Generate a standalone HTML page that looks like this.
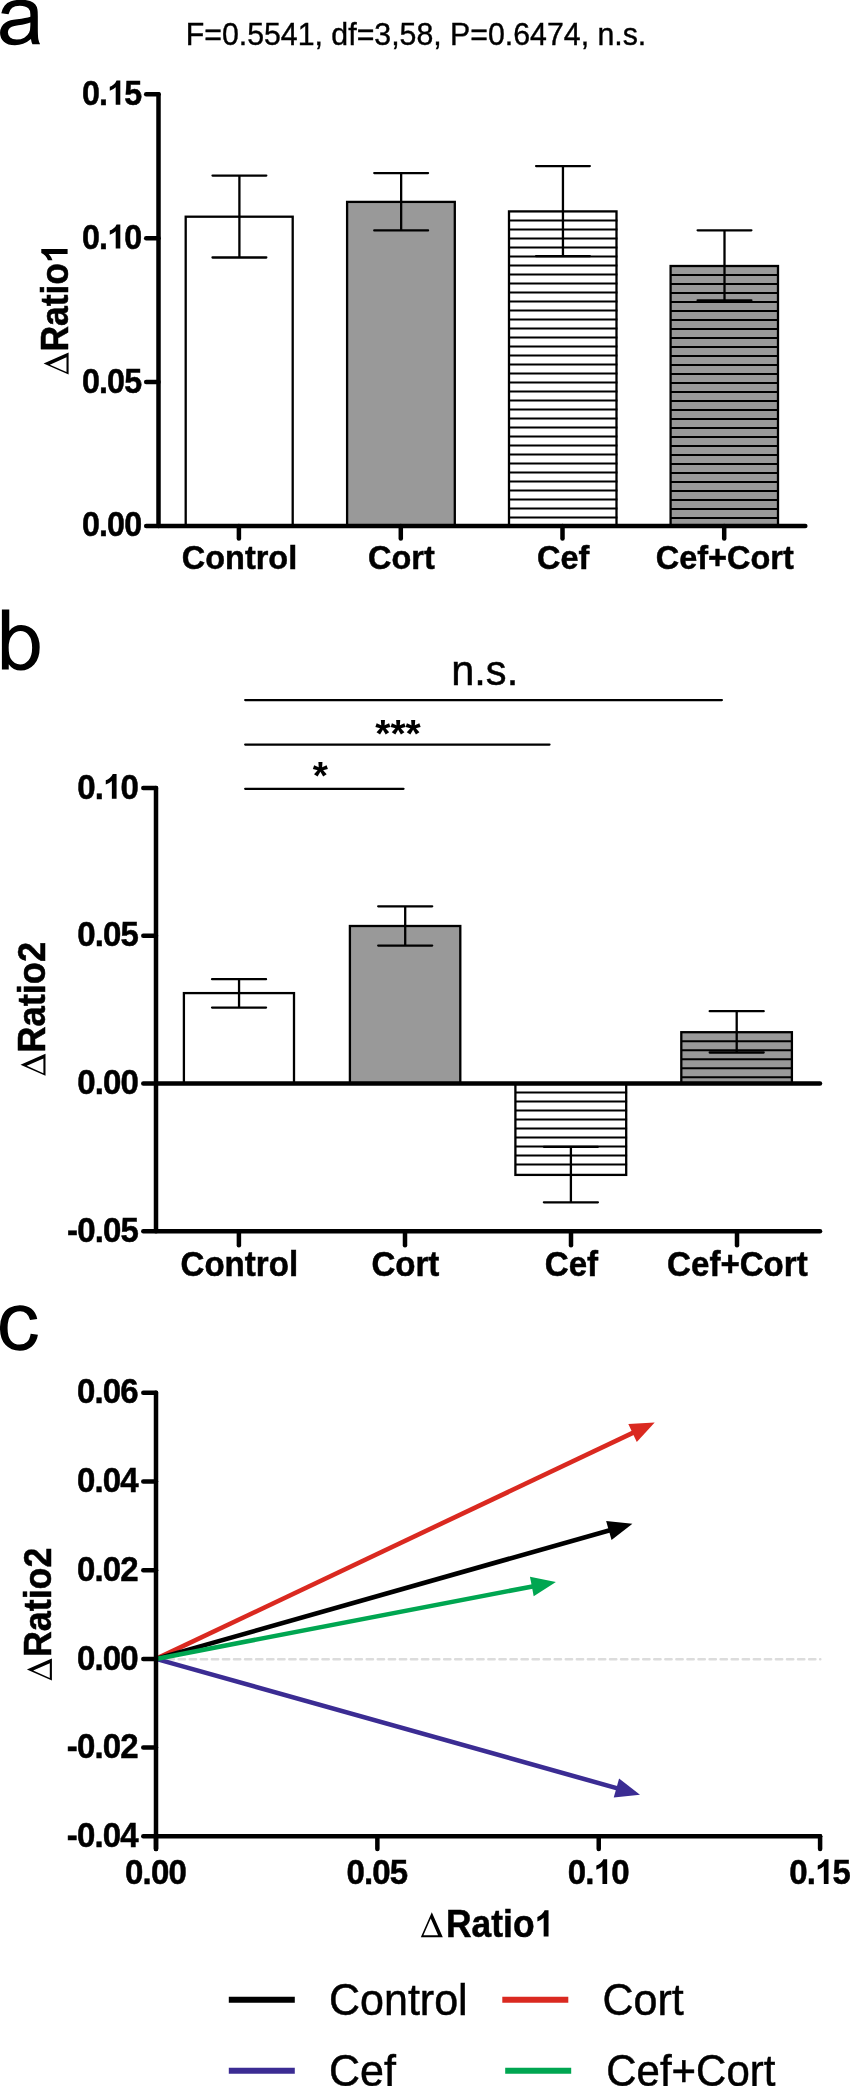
<!DOCTYPE html>
<html><head><meta charset="utf-8"><title>figure</title>
<style>html,body{margin:0;padding:0;background:#fff;}svg{display:block;will-change:transform;}</style>
</head><body>
<svg width="850" height="2086" viewBox="0 0 850 2086">
<rect width="850" height="2086" fill="#fff"/>
<path d="M828,131 Q728,46 635.5,11 Q543,-24 437,-24 Q262,-24 168,61.5 Q74,147 74,280 Q74,358 109.5,422.5 Q145,487 202.5,526 Q260,565 332,585 Q385,599 492,612 Q710,638 813,674 Q814,711 814,721 Q814,831 763,876 Q694,937 558,937 Q431,937 370.5,892.5 Q310,848 281,735 L105,759 Q129,872 184,941.5 Q239,1011 343,1048.5 Q447,1086 584,1086 Q720,1086 805,1054 Q890,1022 930,973.5 Q970,925 986,851 Q995,805 995,685 L995,445 Q995,194 1006.5,127.5 Q1018,61 1052,0 L864,0 Q836,56 828,131 Z M813,533 Q715,493 519,465 Q408,449 362,429 Q316,409 291,370.5 Q266,332 266,285 Q266,213 320.5,165 Q375,117 480,117 Q584,117 665,162.5 Q746,208 784,287 Q813,348 813,467 Z" fill-rule="nonzero" transform="translate(-3.0,44.3) scale(0.04102,-0.04102)"/>
<path d="M301,0 L134,0 L134,1466 L314,1466 L314,943 Q428,1086 605,1086 Q703,1086 790.5,1046.5 Q878,1007 934.5,935.5 Q991,864 1023,763 Q1055,662 1055,547 Q1055,274 920,125 Q785,-24 596,-24 Q408,-24 301,133 Z M299,539 Q299,348 351,263 Q436,124 581,124 Q699,124 785,226.5 Q871,329 871,532 Q871,740 788.5,839 Q706,938 589,938 Q471,938 385,835.5 Q299,733 299,539 Z" fill-rule="evenodd" transform="translate(-3.6,669.6) scale(0.04102,-0.04102)"/>
<path d="M828,389 L1005,366 Q976,183 856.5,79.5 Q737,-24 563,-24 Q345,-24 212.5,118.5 Q80,261 80,527 Q80,699 137,828 Q194,957 310.5,1021.5 Q427,1086 564,1086 Q737,1086 847,998.5 Q957,911 988,750 L813,723 Q788,830 724.5,884 Q661,938 571,938 Q435,938 350,840.5 Q265,743 265,532 Q265,318 347,221 Q429,124 561,124 Q667,124 738,189 Q809,254 828,389 Z" transform="translate(-3.3,1349.7) scale(0.04102,-0.04102)"/>
<text x="0" y="0" font-size="31.4" font-family="Liberation Sans, sans-serif" text-anchor="start" stroke="#000" stroke-width="0.4" transform="translate(185.7,45.3) scale(0.965,1)" >F=0.5541, df=3,58, P=0.6474, n.s.</text>
<rect x="185.7" y="216.7" width="107.0" height="309.3" fill="#fff" stroke="#000" stroke-width="2.3"/>
<rect x="347.1" y="201.9" width="107.69999999999999" height="324.1" fill="#999999" stroke="#000" stroke-width="2.3"/>
<rect x="509.0" y="211.4" width="107.5" height="314.6" fill="#fff" stroke="#000" stroke-width="2.3"/>
<line x1="509.0" y1="220.4" x2="617.4" y2="220.4" stroke="#000" stroke-width="2.0" stroke-linecap="butt" />
<line x1="509.0" y1="229.4" x2="617.4" y2="229.4" stroke="#000" stroke-width="2.0" stroke-linecap="butt" />
<line x1="509.0" y1="238.4" x2="617.4" y2="238.4" stroke="#000" stroke-width="2.0" stroke-linecap="butt" />
<line x1="509.0" y1="247.4" x2="617.4" y2="247.4" stroke="#000" stroke-width="2.0" stroke-linecap="butt" />
<line x1="509.0" y1="256.4" x2="617.4" y2="256.4" stroke="#000" stroke-width="2.0" stroke-linecap="butt" />
<line x1="509.0" y1="265.4" x2="617.4" y2="265.4" stroke="#000" stroke-width="2.0" stroke-linecap="butt" />
<line x1="509.0" y1="274.4" x2="617.4" y2="274.4" stroke="#000" stroke-width="2.0" stroke-linecap="butt" />
<line x1="509.0" y1="283.4" x2="617.4" y2="283.4" stroke="#000" stroke-width="2.0" stroke-linecap="butt" />
<line x1="509.0" y1="292.4" x2="617.4" y2="292.4" stroke="#000" stroke-width="2.0" stroke-linecap="butt" />
<line x1="509.0" y1="301.4" x2="617.4" y2="301.4" stroke="#000" stroke-width="2.0" stroke-linecap="butt" />
<line x1="509.0" y1="310.4" x2="617.4" y2="310.4" stroke="#000" stroke-width="2.0" stroke-linecap="butt" />
<line x1="509.0" y1="319.4" x2="617.4" y2="319.4" stroke="#000" stroke-width="2.0" stroke-linecap="butt" />
<line x1="509.0" y1="328.4" x2="617.4" y2="328.4" stroke="#000" stroke-width="2.0" stroke-linecap="butt" />
<line x1="509.0" y1="337.4" x2="617.4" y2="337.4" stroke="#000" stroke-width="2.0" stroke-linecap="butt" />
<line x1="509.0" y1="346.4" x2="617.4" y2="346.4" stroke="#000" stroke-width="2.0" stroke-linecap="butt" />
<line x1="509.0" y1="355.4" x2="617.4" y2="355.4" stroke="#000" stroke-width="2.0" stroke-linecap="butt" />
<line x1="509.0" y1="364.4" x2="617.4" y2="364.4" stroke="#000" stroke-width="2.0" stroke-linecap="butt" />
<line x1="509.0" y1="373.4" x2="617.4" y2="373.4" stroke="#000" stroke-width="2.0" stroke-linecap="butt" />
<line x1="509.0" y1="382.4" x2="617.4" y2="382.4" stroke="#000" stroke-width="2.0" stroke-linecap="butt" />
<line x1="509.0" y1="391.4" x2="617.4" y2="391.4" stroke="#000" stroke-width="2.0" stroke-linecap="butt" />
<line x1="509.0" y1="400.4" x2="617.4" y2="400.4" stroke="#000" stroke-width="2.0" stroke-linecap="butt" />
<line x1="509.0" y1="409.4" x2="617.4" y2="409.4" stroke="#000" stroke-width="2.0" stroke-linecap="butt" />
<line x1="509.0" y1="418.4" x2="617.4" y2="418.4" stroke="#000" stroke-width="2.0" stroke-linecap="butt" />
<line x1="509.0" y1="427.4" x2="617.4" y2="427.4" stroke="#000" stroke-width="2.0" stroke-linecap="butt" />
<line x1="509.0" y1="436.4" x2="617.4" y2="436.4" stroke="#000" stroke-width="2.0" stroke-linecap="butt" />
<line x1="509.0" y1="445.4" x2="617.4" y2="445.4" stroke="#000" stroke-width="2.0" stroke-linecap="butt" />
<line x1="509.0" y1="454.4" x2="617.4" y2="454.4" stroke="#000" stroke-width="2.0" stroke-linecap="butt" />
<line x1="509.0" y1="463.4" x2="617.4" y2="463.4" stroke="#000" stroke-width="2.0" stroke-linecap="butt" />
<line x1="509.0" y1="472.4" x2="617.4" y2="472.4" stroke="#000" stroke-width="2.0" stroke-linecap="butt" />
<line x1="509.0" y1="481.4" x2="617.4" y2="481.4" stroke="#000" stroke-width="2.0" stroke-linecap="butt" />
<line x1="509.0" y1="490.4" x2="617.4" y2="490.4" stroke="#000" stroke-width="2.0" stroke-linecap="butt" />
<line x1="509.0" y1="499.4" x2="617.4" y2="499.4" stroke="#000" stroke-width="2.0" stroke-linecap="butt" />
<line x1="509.0" y1="508.4" x2="617.4" y2="508.4" stroke="#000" stroke-width="2.0" stroke-linecap="butt" />
<line x1="509.0" y1="517.4" x2="617.4" y2="517.4" stroke="#000" stroke-width="2.0" stroke-linecap="butt" />
<rect x="670.6" y="266.0" width="107.39999999999998" height="260.0" fill="#999999" stroke="#000" stroke-width="2.3"/>
<line x1="670.6" y1="275.0" x2="778.9" y2="275.0" stroke="#000" stroke-width="2.0" stroke-linecap="butt" />
<line x1="670.6" y1="284.0" x2="778.9" y2="284.0" stroke="#000" stroke-width="2.0" stroke-linecap="butt" />
<line x1="670.6" y1="293.0" x2="778.9" y2="293.0" stroke="#000" stroke-width="2.0" stroke-linecap="butt" />
<line x1="670.6" y1="302.0" x2="778.9" y2="302.0" stroke="#000" stroke-width="2.0" stroke-linecap="butt" />
<line x1="670.6" y1="311.0" x2="778.9" y2="311.0" stroke="#000" stroke-width="2.0" stroke-linecap="butt" />
<line x1="670.6" y1="320.0" x2="778.9" y2="320.0" stroke="#000" stroke-width="2.0" stroke-linecap="butt" />
<line x1="670.6" y1="329.0" x2="778.9" y2="329.0" stroke="#000" stroke-width="2.0" stroke-linecap="butt" />
<line x1="670.6" y1="338.0" x2="778.9" y2="338.0" stroke="#000" stroke-width="2.0" stroke-linecap="butt" />
<line x1="670.6" y1="347.0" x2="778.9" y2="347.0" stroke="#000" stroke-width="2.0" stroke-linecap="butt" />
<line x1="670.6" y1="356.0" x2="778.9" y2="356.0" stroke="#000" stroke-width="2.0" stroke-linecap="butt" />
<line x1="670.6" y1="365.0" x2="778.9" y2="365.0" stroke="#000" stroke-width="2.0" stroke-linecap="butt" />
<line x1="670.6" y1="374.0" x2="778.9" y2="374.0" stroke="#000" stroke-width="2.0" stroke-linecap="butt" />
<line x1="670.6" y1="383.0" x2="778.9" y2="383.0" stroke="#000" stroke-width="2.0" stroke-linecap="butt" />
<line x1="670.6" y1="392.0" x2="778.9" y2="392.0" stroke="#000" stroke-width="2.0" stroke-linecap="butt" />
<line x1="670.6" y1="401.0" x2="778.9" y2="401.0" stroke="#000" stroke-width="2.0" stroke-linecap="butt" />
<line x1="670.6" y1="410.0" x2="778.9" y2="410.0" stroke="#000" stroke-width="2.0" stroke-linecap="butt" />
<line x1="670.6" y1="419.0" x2="778.9" y2="419.0" stroke="#000" stroke-width="2.0" stroke-linecap="butt" />
<line x1="670.6" y1="428.0" x2="778.9" y2="428.0" stroke="#000" stroke-width="2.0" stroke-linecap="butt" />
<line x1="670.6" y1="437.0" x2="778.9" y2="437.0" stroke="#000" stroke-width="2.0" stroke-linecap="butt" />
<line x1="670.6" y1="446.0" x2="778.9" y2="446.0" stroke="#000" stroke-width="2.0" stroke-linecap="butt" />
<line x1="670.6" y1="455.0" x2="778.9" y2="455.0" stroke="#000" stroke-width="2.0" stroke-linecap="butt" />
<line x1="670.6" y1="464.0" x2="778.9" y2="464.0" stroke="#000" stroke-width="2.0" stroke-linecap="butt" />
<line x1="670.6" y1="473.0" x2="778.9" y2="473.0" stroke="#000" stroke-width="2.0" stroke-linecap="butt" />
<line x1="670.6" y1="482.0" x2="778.9" y2="482.0" stroke="#000" stroke-width="2.0" stroke-linecap="butt" />
<line x1="670.6" y1="491.0" x2="778.9" y2="491.0" stroke="#000" stroke-width="2.0" stroke-linecap="butt" />
<line x1="670.6" y1="500.0" x2="778.9" y2="500.0" stroke="#000" stroke-width="2.0" stroke-linecap="butt" />
<line x1="670.6" y1="509.0" x2="778.9" y2="509.0" stroke="#000" stroke-width="2.0" stroke-linecap="butt" />
<line x1="670.6" y1="518.0" x2="778.9" y2="518.0" stroke="#000" stroke-width="2.0" stroke-linecap="butt" />
<line x1="239.39999999999998" y1="175.6" x2="239.39999999999998" y2="257.5" stroke="#000" stroke-width="2.3" stroke-linecap="butt" />
<line x1="212.49999999999997" y1="175.6" x2="266.29999999999995" y2="175.6" stroke="#000" stroke-width="2.3" stroke-linecap="round" />
<line x1="212.49999999999997" y1="257.5" x2="266.29999999999995" y2="257.5" stroke="#000" stroke-width="2.3" stroke-linecap="round" />
<line x1="401.15000000000003" y1="173.1" x2="401.15000000000003" y2="230.4" stroke="#000" stroke-width="2.3" stroke-linecap="butt" />
<line x1="374.25000000000006" y1="173.1" x2="428.05" y2="173.1" stroke="#000" stroke-width="2.3" stroke-linecap="round" />
<line x1="374.25000000000006" y1="230.4" x2="428.05" y2="230.4" stroke="#000" stroke-width="2.3" stroke-linecap="round" />
<line x1="562.95" y1="166.1" x2="562.95" y2="256.2" stroke="#000" stroke-width="2.3" stroke-linecap="butt" />
<line x1="536.0500000000001" y1="166.1" x2="589.85" y2="166.1" stroke="#000" stroke-width="2.3" stroke-linecap="round" />
<line x1="536.0500000000001" y1="256.2" x2="589.85" y2="256.2" stroke="#000" stroke-width="2.3" stroke-linecap="round" />
<line x1="724.5" y1="230.3" x2="724.5" y2="300.3" stroke="#000" stroke-width="2.3" stroke-linecap="butt" />
<line x1="697.6" y1="230.3" x2="751.4" y2="230.3" stroke="#000" stroke-width="2.3" stroke-linecap="round" />
<line x1="697.6" y1="300.3" x2="751.4" y2="300.3" stroke="#000" stroke-width="2.3" stroke-linecap="round" />
<line x1="158.5" y1="94.3" x2="158.5" y2="525.4" stroke="#000" stroke-width="4.5" stroke-linecap="round" />
<line x1="158.5" y1="526.0" x2="805.3" y2="526.0" stroke="#000" stroke-width="4.5" stroke-linecap="round" />
<line x1="146.2" y1="94.3" x2="158.5" y2="94.3" stroke="#000" stroke-width="4.5" stroke-linecap="round" />
<text x="0" y="0" font-size="34.85" font-family="Liberation Sans, sans-serif" font-weight="bold" text-anchor="start" letter-spacing="-0.9" stroke="#000" stroke-width="0.5" transform="translate(81.9,104.69999999999999) scale(0.925,1)" >0.</text>
<path d="M806,0 L525,0 L525,-1059 Q371,-915 162,-846 L162,-1101 Q272,-1137 401,-1237.5 Q530,-1338 578,-1472 L806,-1472 Z" transform="translate(107.12,104.70) scale(0.01636,0.01636)"/>
<text x="0" y="0" font-size="34.85" font-family="Liberation Sans, sans-serif" font-weight="bold" text-anchor="start" letter-spacing="-0.9" stroke="#000" stroke-width="0.5" transform="translate(124.21,104.69999999999999) scale(0.925,1)" >5</text>
<line x1="146.2" y1="238.2" x2="158.5" y2="238.2" stroke="#000" stroke-width="4.5" stroke-linecap="round" />
<text x="0" y="0" font-size="34.85" font-family="Liberation Sans, sans-serif" font-weight="bold" text-anchor="start" letter-spacing="-0.9" stroke="#000" stroke-width="0.5" transform="translate(81.9,248.6) scale(0.925,1)" >0.</text>
<path d="M806,0 L525,0 L525,-1059 Q371,-915 162,-846 L162,-1101 Q272,-1137 401,-1237.5 Q530,-1338 578,-1472 L806,-1472 Z" transform="translate(107.12,248.60) scale(0.01636,0.01636)"/>
<text x="0" y="0" font-size="34.85" font-family="Liberation Sans, sans-serif" font-weight="bold" text-anchor="start" letter-spacing="-0.9" stroke="#000" stroke-width="0.5" transform="translate(124.21,248.6) scale(0.925,1)" >0</text>
<line x1="146.2" y1="382.1" x2="158.5" y2="382.1" stroke="#000" stroke-width="4.5" stroke-linecap="round" />
<text x="0" y="0" font-size="34.85" font-family="Liberation Sans, sans-serif" font-weight="bold" text-anchor="start" letter-spacing="-0.9" stroke="#000" stroke-width="0.5" transform="translate(81.9,392.50000000000006) scale(0.925,1)" >0.05</text>
<line x1="146.2" y1="526.0" x2="158.5" y2="526.0" stroke="#000" stroke-width="4.5" stroke-linecap="round" />
<text x="0" y="0" font-size="34.85" font-family="Liberation Sans, sans-serif" font-weight="bold" text-anchor="start" letter-spacing="-0.9" stroke="#000" stroke-width="0.5" transform="translate(81.9,536.4) scale(0.925,1)" >0.00</text>
<line x1="238.9" y1="526.0" x2="238.9" y2="538.4" stroke="#000" stroke-width="4.5" stroke-linecap="round" />
<text x="0" y="0" font-size="33.8" font-family="Liberation Sans, sans-serif" font-weight="bold" text-anchor="middle" stroke="#000" stroke-width="0.5" transform="translate(239.5,568.8) scale(0.96,1)" >Control</text>
<line x1="400.8" y1="526.0" x2="400.8" y2="538.4" stroke="#000" stroke-width="4.5" stroke-linecap="round" />
<text x="0" y="0" font-size="33.8" font-family="Liberation Sans, sans-serif" font-weight="bold" text-anchor="middle" stroke="#000" stroke-width="0.5" transform="translate(401.40000000000003,568.8) scale(0.96,1)" >Cort</text>
<line x1="562.5" y1="526.0" x2="562.5" y2="538.4" stroke="#000" stroke-width="4.5" stroke-linecap="round" />
<text x="0" y="0" font-size="33.8" font-family="Liberation Sans, sans-serif" font-weight="bold" text-anchor="middle" stroke="#000" stroke-width="0.5" transform="translate(563.1,568.8) scale(0.96,1)" >Cef</text>
<line x1="724.2" y1="526.0" x2="724.2" y2="538.4" stroke="#000" stroke-width="4.5" stroke-linecap="round" />
<text x="0" y="0" font-size="33.8" font-family="Liberation Sans, sans-serif" font-weight="bold" text-anchor="middle" stroke="#000" stroke-width="0.5" transform="translate(724.8000000000001,568.8) scale(0.96,1)" >Cef+Cort</text>
<path d="M0,0 L22.0,0 L11.0,-25.0 Z M2.62,-2.1 L9.95,-18.75 L17.28,-2.1 Z" fill="#000" fill-rule="evenodd" transform="translate(68.6,374.6) rotate(-90)"/>
<text x="0" y="0" font-size="38.1" font-family="Liberation Sans, sans-serif" font-weight="bold" text-anchor="start" stroke="#000" stroke-width="0.5" transform="translate(67.6,351.6) rotate(-90) scale(0.93,1)" >Ratio</text>
<path d="M806,0 L525,0 L525,-1059 Q371,-915 162,-846 L162,-1101 Q272,-1137 401,-1237.5 Q530,-1338 578,-1472 L806,-1472 Z" transform="translate(67.60,263.02) rotate(-90) scale(0.01730,0.01787)"/>
<rect x="183.9" y="993.1" width="110.1" height="90.39999999999998" fill="#fff" stroke="#000" stroke-width="2.3"/>
<rect x="349.9" y="926.0" width="110.40000000000003" height="157.5" fill="#999999" stroke="#000" stroke-width="2.3"/>
<rect x="515.4" y="1083.5" width="110.80000000000007" height="91.40000000000009" fill="#fff" stroke="#000" stroke-width="2.3"/>
<line x1="515.4" y1="1092.5" x2="627.1" y2="1092.5" stroke="#000" stroke-width="2.0" stroke-linecap="butt" />
<line x1="515.4" y1="1101.5" x2="627.1" y2="1101.5" stroke="#000" stroke-width="2.0" stroke-linecap="butt" />
<line x1="515.4" y1="1110.5" x2="627.1" y2="1110.5" stroke="#000" stroke-width="2.0" stroke-linecap="butt" />
<line x1="515.4" y1="1119.5" x2="627.1" y2="1119.5" stroke="#000" stroke-width="2.0" stroke-linecap="butt" />
<line x1="515.4" y1="1128.5" x2="627.1" y2="1128.5" stroke="#000" stroke-width="2.0" stroke-linecap="butt" />
<line x1="515.4" y1="1137.5" x2="627.1" y2="1137.5" stroke="#000" stroke-width="2.0" stroke-linecap="butt" />
<line x1="515.4" y1="1146.5" x2="627.1" y2="1146.5" stroke="#000" stroke-width="2.0" stroke-linecap="butt" />
<line x1="515.4" y1="1155.5" x2="627.1" y2="1155.5" stroke="#000" stroke-width="2.0" stroke-linecap="butt" />
<line x1="515.4" y1="1164.5" x2="627.1" y2="1164.5" stroke="#000" stroke-width="2.0" stroke-linecap="butt" />
<rect x="681.3" y="1032.2" width="110.60000000000002" height="51.299999999999955" fill="#999999" stroke="#000" stroke-width="2.3"/>
<line x1="681.3" y1="1041.2" x2="792.8" y2="1041.2" stroke="#000" stroke-width="2.0" stroke-linecap="butt" />
<line x1="681.3" y1="1050.2" x2="792.8" y2="1050.2" stroke="#000" stroke-width="2.0" stroke-linecap="butt" />
<line x1="681.3" y1="1059.2" x2="792.8" y2="1059.2" stroke="#000" stroke-width="2.0" stroke-linecap="butt" />
<line x1="681.3" y1="1068.2" x2="792.8" y2="1068.2" stroke="#000" stroke-width="2.0" stroke-linecap="butt" />
<line x1="681.3" y1="1077.2" x2="792.8" y2="1077.2" stroke="#000" stroke-width="2.0" stroke-linecap="butt" />
<line x1="239.04999999999998" y1="979.2" x2="239.04999999999998" y2="1007.6" stroke="#000" stroke-width="2.3" stroke-linecap="butt" />
<line x1="212.04999999999998" y1="979.2" x2="266.04999999999995" y2="979.2" stroke="#000" stroke-width="2.3" stroke-linecap="round" />
<line x1="212.04999999999998" y1="1007.6" x2="266.04999999999995" y2="1007.6" stroke="#000" stroke-width="2.3" stroke-linecap="round" />
<line x1="405.20000000000005" y1="906.3" x2="405.20000000000005" y2="945.6" stroke="#000" stroke-width="2.3" stroke-linecap="butt" />
<line x1="378.20000000000005" y1="906.3" x2="432.20000000000005" y2="906.3" stroke="#000" stroke-width="2.3" stroke-linecap="round" />
<line x1="378.20000000000005" y1="945.6" x2="432.20000000000005" y2="945.6" stroke="#000" stroke-width="2.3" stroke-linecap="round" />
<line x1="570.9" y1="1146.8" x2="570.9" y2="1202.3" stroke="#000" stroke-width="2.3" stroke-linecap="butt" />
<line x1="543.9" y1="1146.8" x2="597.9" y2="1146.8" stroke="#000" stroke-width="2.3" stroke-linecap="round" />
<line x1="543.9" y1="1202.3" x2="597.9" y2="1202.3" stroke="#000" stroke-width="2.3" stroke-linecap="round" />
<line x1="736.6999999999999" y1="1011.2" x2="736.6999999999999" y2="1052.5" stroke="#000" stroke-width="2.3" stroke-linecap="butt" />
<line x1="709.6999999999999" y1="1011.2" x2="763.6999999999999" y2="1011.2" stroke="#000" stroke-width="2.3" stroke-linecap="round" />
<line x1="709.6999999999999" y1="1052.5" x2="763.6999999999999" y2="1052.5" stroke="#000" stroke-width="2.3" stroke-linecap="round" />
<line x1="156.0" y1="788.1" x2="156.0" y2="1230.6000000000001" stroke="#000" stroke-width="4.5" stroke-linecap="round" />
<line x1="156.0" y1="1231.2" x2="820.0" y2="1231.2" stroke="#000" stroke-width="4.5" stroke-linecap="round" />
<line x1="156.0" y1="1083.5" x2="820.0" y2="1083.5" stroke="#000" stroke-width="4.5" stroke-linecap="round" />
<line x1="143.3" y1="788.1" x2="156.0" y2="788.1" stroke="#000" stroke-width="4.5" stroke-linecap="round" />
<text x="0" y="0" font-size="35.72125" font-family="Liberation Sans, sans-serif" font-weight="bold" text-anchor="start" letter-spacing="-0.9225" stroke="#000" stroke-width="0.5" transform="translate(77.21,798.6999999999999) scale(0.925,1)" >0.</text>
<path d="M806,0 L525,0 L525,-1059 Q371,-915 162,-846 L162,-1101 Q272,-1137 401,-1237.5 Q530,-1338 578,-1472 L806,-1472 Z" transform="translate(103.06,798.70) scale(0.01677,0.01677)"/>
<text x="0" y="0" font-size="35.72125" font-family="Liberation Sans, sans-serif" font-weight="bold" text-anchor="start" letter-spacing="-0.9225" stroke="#000" stroke-width="0.5" transform="translate(120.58,798.6999999999999) scale(0.925,1)" >0</text>
<line x1="143.3" y1="935.8000000000001" x2="156.0" y2="935.8000000000001" stroke="#000" stroke-width="4.5" stroke-linecap="round" />
<text x="0" y="0" font-size="35.72125" font-family="Liberation Sans, sans-serif" font-weight="bold" text-anchor="start" letter-spacing="-0.9225" stroke="#000" stroke-width="0.5" transform="translate(77.21,946.4) scale(0.925,1)" >0.05</text>
<line x1="143.3" y1="1083.5" x2="156.0" y2="1083.5" stroke="#000" stroke-width="4.5" stroke-linecap="round" />
<text x="0" y="0" font-size="35.72125" font-family="Liberation Sans, sans-serif" font-weight="bold" text-anchor="start" letter-spacing="-0.9225" stroke="#000" stroke-width="0.5" transform="translate(77.21,1094.1) scale(0.925,1)" >0.00</text>
<line x1="143.3" y1="1231.2" x2="156.0" y2="1231.2" stroke="#000" stroke-width="4.5" stroke-linecap="round" />
<text x="0" y="0" font-size="35.72125" font-family="Liberation Sans, sans-serif" font-weight="bold" text-anchor="start" letter-spacing="-0.9225" stroke="#000" stroke-width="0.5" transform="translate(67.06,1241.8) scale(0.925,1)" >-0.05</text>
<line x1="238.9" y1="1231.2" x2="238.9" y2="1245.2" stroke="#000" stroke-width="4.5" stroke-linecap="round" />
<text x="0" y="0" font-size="34.476" font-family="Liberation Sans, sans-serif" font-weight="bold" text-anchor="middle" stroke="#000" stroke-width="0.5" transform="translate(239.3,1276.4) scale(0.96,1)" >Control</text>
<line x1="405.0" y1="1231.2" x2="405.0" y2="1245.2" stroke="#000" stroke-width="4.5" stroke-linecap="round" />
<text x="0" y="0" font-size="34.476" font-family="Liberation Sans, sans-serif" font-weight="bold" text-anchor="middle" stroke="#000" stroke-width="0.5" transform="translate(405.4,1276.4) scale(0.96,1)" >Cort</text>
<line x1="571.0" y1="1231.2" x2="571.0" y2="1245.2" stroke="#000" stroke-width="4.5" stroke-linecap="round" />
<text x="0" y="0" font-size="34.476" font-family="Liberation Sans, sans-serif" font-weight="bold" text-anchor="middle" stroke="#000" stroke-width="0.5" transform="translate(571.4,1276.4) scale(0.96,1)" >Cef</text>
<line x1="737.0" y1="1231.2" x2="737.0" y2="1245.2" stroke="#000" stroke-width="4.5" stroke-linecap="round" />
<text x="0" y="0" font-size="34.476" font-family="Liberation Sans, sans-serif" font-weight="bold" text-anchor="middle" stroke="#000" stroke-width="0.5" transform="translate(737.4,1276.4) scale(0.96,1)" >Cef+Cort</text>
<line x1="245.2" y1="700.1" x2="721.9" y2="700.1" stroke="#000" stroke-width="2.3" stroke-linecap="round" />
<line x1="245.2" y1="744.6" x2="549.5" y2="744.6" stroke="#000" stroke-width="2.3" stroke-linecap="round" />
<line x1="245.2" y1="788.8" x2="403.5" y2="788.8" stroke="#000" stroke-width="2.3" stroke-linecap="round" />
<text x="0" y="0" font-size="43" font-family="Liberation Sans, sans-serif" text-anchor="middle" stroke="#000" stroke-width="0.5" transform="translate(484.7,685.3) scale(0.966,1)" >n.s.</text>
<text x="398.0" y="747.0" font-size="39" font-family="Liberation Sans, sans-serif" font-weight="bold" text-anchor="middle" >***</text>
<text x="320.4" y="789.2" font-size="39" font-family="Liberation Sans, sans-serif" font-weight="bold" text-anchor="middle" >*</text>
<path d="M0,0 L22.0,0 L11.0,-25.0 Z M2.62,-2.1 L9.95,-18.75 L17.28,-2.1 Z" fill="#000" fill-rule="evenodd" transform="translate(45.5,1075.8) rotate(-90)"/>
<text x="0" y="0" font-size="38.1" font-family="Liberation Sans, sans-serif" font-weight="bold" text-anchor="start" stroke="#000" stroke-width="0.5" transform="translate(44.5,1052.7) rotate(-90) scale(0.952,1)" >Ratio2</text>
<line x1="156.55" y1="1659.2" x2="820.3000000000001" y2="1659.2" stroke="#dcdcdc" stroke-width="2.5" stroke-linecap="round" stroke-dasharray="6.3 4.76"/>
<line x1="156.0" y1="1658.9" x2="618.34" y2="1788.62" stroke="#3b2c93" stroke-width="4.6" stroke-linecap="butt" />
<polygon points="640.00,1794.70 613.74,1797.61 619.09,1778.55" fill="#3b2c93"/>
<line x1="156.0" y1="1658.9" x2="634.37" y2="1432.14" stroke="#da2920" stroke-width="4.6" stroke-linecap="butt" />
<polygon points="654.70,1422.50 636.80,1441.94 628.32,1424.05" fill="#da2920"/>
<line x1="156.0" y1="1658.9" x2="610.75" y2="1529.94" stroke="#000" stroke-width="4.6" stroke-linecap="butt" />
<polygon points="632.40,1523.80 611.53,1540.01 606.13,1520.96" fill="#000"/>
<line x1="156.0" y1="1658.9" x2="533.81" y2="1586.15" stroke="#00a651" stroke-width="4.6" stroke-linecap="butt" />
<polygon points="555.90,1581.90 533.71,1596.25 529.97,1576.81" fill="#00a651"/>
<line x1="156.0" y1="1392.8" x2="156.0" y2="1849.1" stroke="#000" stroke-width="4.5" stroke-linecap="round" />
<line x1="156.0" y1="1836.3" x2="820.1" y2="1836.3" stroke="#000" stroke-width="4.5" stroke-linecap="round" />
<line x1="143.3" y1="1392.8" x2="156.0" y2="1392.8" stroke="#000" stroke-width="4.5" stroke-linecap="round" />
<text x="0" y="0" font-size="35.72125" font-family="Liberation Sans, sans-serif" font-weight="bold" text-anchor="start" letter-spacing="-0.9225" stroke="#000" stroke-width="0.5" transform="translate(77.01,1403.3999999999999) scale(0.925,1)" >0.06</text>
<line x1="143.3" y1="1481.5" x2="156.0" y2="1481.5" stroke="#000" stroke-width="4.5" stroke-linecap="round" />
<text x="0" y="0" font-size="35.72125" font-family="Liberation Sans, sans-serif" font-weight="bold" text-anchor="start" letter-spacing="-0.9225" stroke="#000" stroke-width="0.5" transform="translate(77.01,1492.1) scale(0.925,1)" >0.04</text>
<line x1="143.3" y1="1570.2" x2="156.0" y2="1570.2" stroke="#000" stroke-width="4.5" stroke-linecap="round" />
<text x="0" y="0" font-size="35.72125" font-family="Liberation Sans, sans-serif" font-weight="bold" text-anchor="start" letter-spacing="-0.9225" stroke="#000" stroke-width="0.5" transform="translate(77.01,1580.8) scale(0.925,1)" >0.02</text>
<line x1="143.3" y1="1658.9" x2="156.0" y2="1658.9" stroke="#000" stroke-width="4.5" stroke-linecap="round" />
<text x="0" y="0" font-size="35.72125" font-family="Liberation Sans, sans-serif" font-weight="bold" text-anchor="start" letter-spacing="-0.9225" stroke="#000" stroke-width="0.5" transform="translate(77.01,1669.5) scale(0.925,1)" >0.00</text>
<line x1="143.3" y1="1747.6" x2="156.0" y2="1747.6" stroke="#000" stroke-width="4.5" stroke-linecap="round" />
<text x="0" y="0" font-size="35.72125" font-family="Liberation Sans, sans-serif" font-weight="bold" text-anchor="start" letter-spacing="-0.9225" stroke="#000" stroke-width="0.5" transform="translate(66.86,1758.1999999999998) scale(0.925,1)" >-0.02</text>
<line x1="143.3" y1="1836.3" x2="156.0" y2="1836.3" stroke="#000" stroke-width="4.5" stroke-linecap="round" />
<text x="0" y="0" font-size="35.72125" font-family="Liberation Sans, sans-serif" font-weight="bold" text-anchor="start" letter-spacing="-0.9225" stroke="#000" stroke-width="0.5" transform="translate(66.86,1846.8999999999999) scale(0.925,1)" >-0.04</text>
<line x1="156.0" y1="1836.3" x2="156.0" y2="1849.1" stroke="#000" stroke-width="4.5" stroke-linecap="round" />
<text x="0" y="0" font-size="35.72125" font-family="Liberation Sans, sans-serif" font-weight="bold" text-anchor="start" letter-spacing="-0.9225" stroke="#000" stroke-width="0.5" transform="translate(125.06,1883.8999999999999) scale(0.925,1)" >0.00</text>
<line x1="377.3666666666667" y1="1836.3" x2="377.3666666666667" y2="1849.1" stroke="#000" stroke-width="4.5" stroke-linecap="round" />
<text x="0" y="0" font-size="35.72125" font-family="Liberation Sans, sans-serif" font-weight="bold" text-anchor="start" letter-spacing="-0.9225" stroke="#000" stroke-width="0.5" transform="translate(346.42,1883.8999999999999) scale(0.925,1)" >0.05</text>
<line x1="598.7333333333333" y1="1836.3" x2="598.7333333333333" y2="1849.1" stroke="#000" stroke-width="4.5" stroke-linecap="round" />
<text x="0" y="0" font-size="35.72125" font-family="Liberation Sans, sans-serif" font-weight="bold" text-anchor="start" letter-spacing="-0.9225" stroke="#000" stroke-width="0.5" transform="translate(567.79,1883.8999999999999) scale(0.925,1)" >0.</text>
<path d="M806,0 L525,0 L525,-1059 Q371,-915 162,-846 L162,-1101 Q272,-1137 401,-1237.5 Q530,-1338 578,-1472 L806,-1472 Z" transform="translate(593.64,1883.90) scale(0.01677,0.01677)"/>
<text x="0" y="0" font-size="35.72125" font-family="Liberation Sans, sans-serif" font-weight="bold" text-anchor="start" letter-spacing="-0.9225" stroke="#000" stroke-width="0.5" transform="translate(611.16,1883.8999999999999) scale(0.925,1)" >0</text>
<line x1="820.1" y1="1836.3" x2="820.1" y2="1849.1" stroke="#000" stroke-width="4.5" stroke-linecap="round" />
<text x="0" y="0" font-size="35.72125" font-family="Liberation Sans, sans-serif" font-weight="bold" text-anchor="start" letter-spacing="-0.9225" stroke="#000" stroke-width="0.5" transform="translate(789.16,1883.8999999999999) scale(0.925,1)" >0.</text>
<path d="M806,0 L525,0 L525,-1059 Q371,-915 162,-846 L162,-1101 Q272,-1137 401,-1237.5 Q530,-1338 578,-1472 L806,-1472 Z" transform="translate(815.01,1883.90) scale(0.01677,0.01677)"/>
<text x="0" y="0" font-size="35.72125" font-family="Liberation Sans, sans-serif" font-weight="bold" text-anchor="start" letter-spacing="-0.9225" stroke="#000" stroke-width="0.5" transform="translate(832.53,1883.8999999999999) scale(0.925,1)" >5</text>
<path d="M0,0 L22.0,0 L11.0,-25.0 Z M2.62,-2.1 L9.95,-18.75 L17.28,-2.1 Z" fill="#000" fill-rule="evenodd" transform="translate(51.9,1680.5) rotate(-90)"/>
<text x="0" y="0" font-size="38.1" font-family="Liberation Sans, sans-serif" font-weight="bold" text-anchor="start" stroke="#000" stroke-width="0.5" transform="translate(50.8,1657.1) rotate(-90) scale(0.941,1)" >Ratio2</text>
<path d="M0,0 L22.0,0 L11.0,-25.0 Z M2.62,-2.1 L9.95,-18.75 L17.28,-2.1 Z" fill="#000" fill-rule="evenodd" transform="translate(420.8,1937.3)"/>
<text x="0" y="0" font-size="38.1" font-family="Liberation Sans, sans-serif" font-weight="bold" text-anchor="start" stroke="#000" stroke-width="0.5" transform="translate(446.0,1936.6) scale(0.93,1)" >Ratio</text>
<path d="M806,0 L525,0 L525,-1059 Q371,-915 162,-846 L162,-1101 Q272,-1137 401,-1237.5 Q530,-1338 578,-1472 L806,-1472 Z" transform="translate(534.58,1936.60) scale(0.01730,0.01787)"/>
<line x1="228.8" y1="1999.7" x2="294.8" y2="1999.7" stroke="#000" stroke-width="6.0" stroke-linecap="butt" />
<line x1="228.8" y1="2070.7" x2="294.8" y2="2070.7" stroke="#3b2c93" stroke-width="6.0" stroke-linecap="butt" />
<line x1="502.3" y1="1999.8" x2="568.3" y2="1999.8" stroke="#da2920" stroke-width="6.0" stroke-linecap="butt" />
<line x1="505.2" y1="2070.7" x2="571.2" y2="2070.7" stroke="#00a651" stroke-width="6.0" stroke-linecap="butt" />
<text x="0" y="0" font-size="43.9" font-family="Liberation Sans, sans-serif" text-anchor="start" stroke="#000" stroke-width="0.5" transform="translate(329.0,2014.6) scale(0.98,1)" >Control</text>
<text x="0" y="0" font-size="43.9" font-family="Liberation Sans, sans-serif" text-anchor="start" stroke="#000" stroke-width="0.5" transform="translate(329.0,2086.1) scale(0.98,1)" >Cef</text>
<text x="0" y="0" font-size="43.9" font-family="Liberation Sans, sans-serif" text-anchor="start" stroke="#000" stroke-width="0.5" transform="translate(602.5,2014.6) scale(0.98,1)" >Cort</text>
<text x="0" y="0" font-size="43.9" font-family="Liberation Sans, sans-serif" text-anchor="start" stroke="#000" stroke-width="0.5" transform="translate(606.3,2086.1) scale(0.956,1)" >Cef+Cort</text>
</svg>
</body></html>
